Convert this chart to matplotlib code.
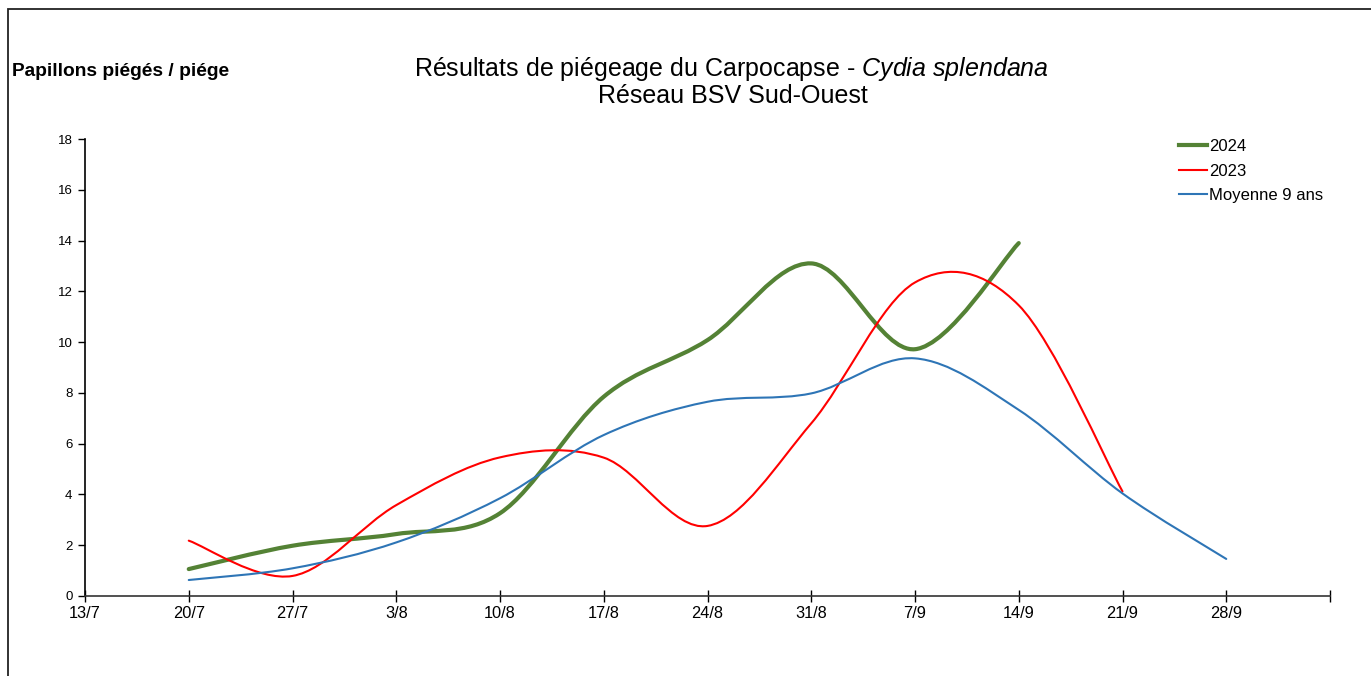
import numpy as np
import matplotlib
matplotlib.use('Agg')
import matplotlib.pyplot as plt
from matplotlib.path import Path
from matplotlib.patches import PathPatch, Rectangle
from matplotlib.lines import Line2D

plt.rcParams['font.family'] = ['Liberation Sans', 'DejaVu Sans']
plt.rcParams['mathtext.fontset'] = 'custom'
plt.rcParams['mathtext.rm'] = 'Liberation Sans'
plt.rcParams['mathtext.it'] = 'Liberation Sans:italic'

#### data ####
dates = ['13/7', '20/7', '27/7', '3/8', '10/8', '17/8', '24/8', '31/8', '7/9', '14/9', '21/9', '28/9', '']

# every series starts at 20/7 (index 1 in dates)
y2024 = [1.06, 1.98, 2.44, 3.26, 7.85, 10.08, 13.1, 9.72, 13.9]
y2023 = [2.18, 0.79, 3.58, 5.46, 5.45, 2.76, 6.8, 12.35, 11.45, 4.12]
ymoy = [0.63, 1.09, 2.11, 3.85, 6.34, 7.65, 7.98, 9.36, 7.33, 4.04, 1.46]
start = 1

series_names = ['2024', '2023', 'Moyenne 9 ans']
series_values = [y2024, y2023, ymoy]
series_colors = ['#548235', '#FF0000', '#2E75B6']
series_widths = [3.0, 1.5, 1.5]


# smoothed line like a spreadsheet (cubic bezier through each point)
def smooth_path(xs, ys):
    pts = np.column_stack([xs, ys]).astype(float)
    n = len(pts)
    prev_p = np.vstack([pts[0], pts[:-1]])
    next_p = np.vstack([pts[1:], pts[-1]])
    d = (next_p - prev_p) / 6.0
    verts = [pts[0]]
    codes = [Path.MOVETO]
    for i in range(n - 1):
        verts += [pts[i] + d[i], pts[i + 1] - d[i + 1], pts[i + 1]]
        codes += [Path.CURVE4] * 3
    return Path(verts, codes)


fig = plt.figure(figsize=(13.71, 6.76), dpi=100, facecolor='w')
ax = fig.add_axes([85 / 1371, 80 / 676, 1245 / 1371, 457 / 676])

handles = []
for name, vals, col, lw in zip(series_names, series_values, series_colors, series_widths):
    xs = np.arange(start, start + len(vals))
    patch = PathPatch(smooth_path(xs, vals), fill=False, edgecolor=col, lw=lw,
                      capstyle='round', joinstyle='round')
    ax.add_patch(patch)
    handles.append(Line2D([], [], color=col, lw=lw, label=name))

ax.set_xlim(0, len(dates) - 1)
ax.set_ylim(0, 18)
ax.set_xticks(np.arange(len(dates)))
ax.set_xticklabels(dates, fontsize=11.75)
ax.set_yticks(np.arange(0, 19, 2))
ax.tick_params(axis='y', labelsize=9.5, direction='out', length=5, width=1, pad=4)
ax.tick_params(axis='x', direction='inout', length=9, width=1, pad=3)

for s in ['top', 'right']:
    ax.spines[s].set_visible(False)
ax.spines['left'].set_color('black')
ax.spines['bottom'].set_color('#333333')
ax.spines['left'].set_linewidth(1.2)
ax.spines['bottom'].set_linewidth(1.2)

fig.legend(handles=handles, loc='upper left', bbox_to_anchor=(1179 / 1371, 1 - 139 / 676),
           frameon=False, fontsize=12, handlelength=1.68, handletextpad=0.12,
           labelspacing=0.58, borderpad=0, borderaxespad=0)

# titles
fig.text(731 / 1371, 1 - 69 / 676, r'Résultats de piégeage du Carpocapse - $\mathit{Cydia\ splendana}$',
         ha='center', va='center', fontsize=18)
fig.text(733 / 1371, 1 - 96 / 676, 'Réseau BSV Sud-Ouest', ha='center', va='center', fontsize=18)
fig.text(12 / 1371, 1 - 71 / 676, 'Papillons piégés / piége', ha='left', va='center',
         fontsize=13.8, fontweight='bold')

# outer frame of the chart area
fig.patches.append(Rectangle((8 / 1371, -0.1), 1.2, 1.1 - 9 / 676, transform=fig.transFigure,
                             fill=False, edgecolor='#222222', lw=1.3))

plt.savefig('out.png', dpi=100)
